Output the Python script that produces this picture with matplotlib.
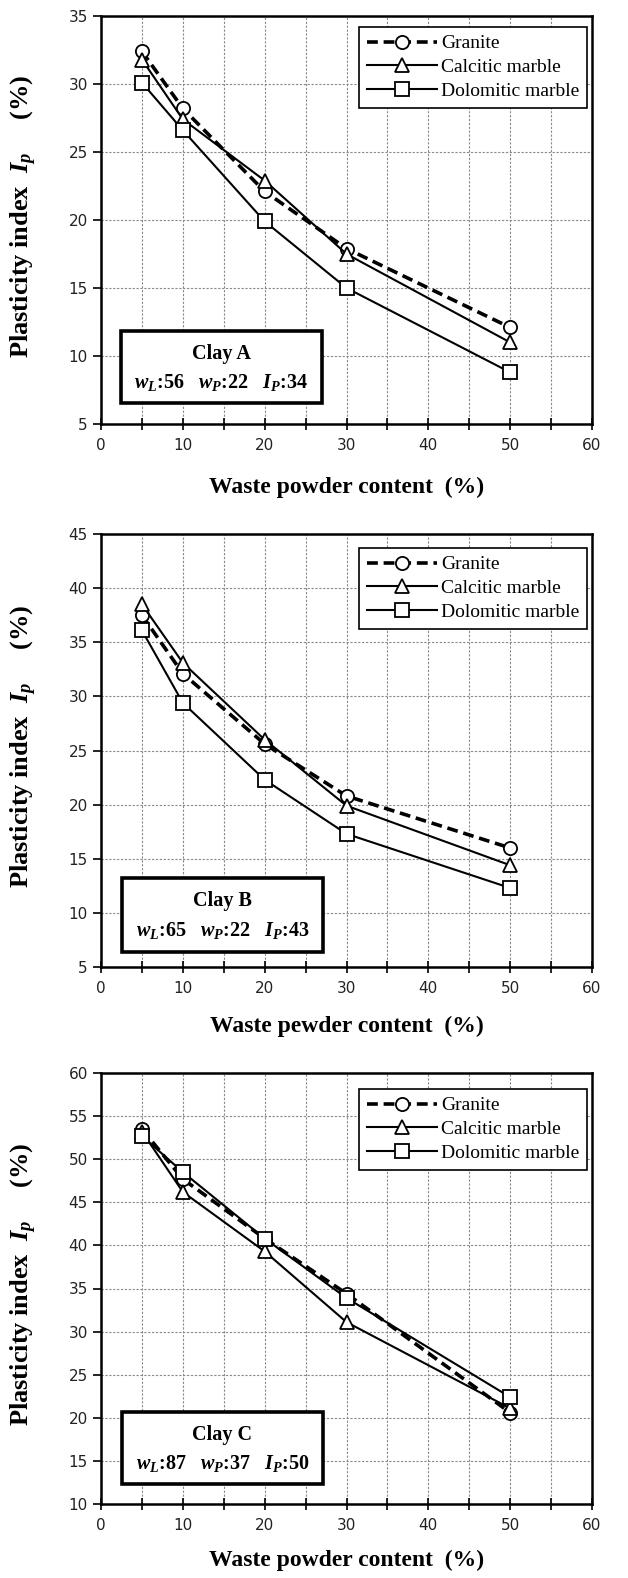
import matplotlib
matplotlib.use("Agg")
import matplotlib.pyplot as plt
from matplotlib.patches import Rectangle

plt.rcParams["mathtext.fontset"] = "custom"
plt.rcParams["mathtext.rm"] = "Liberation Serif:bold"
plt.rcParams["mathtext.it"] = "Liberation Serif:italic:bold"
plt.rcParams["mathtext.bf"] = "Liberation Serif:bold"

# waste powder content (%)
content = [5, 10, 20, 30, 50]
series_names = ["Granite", "Calcitic marble", "Dolomitic marble"]

# plasticity index values
clay_a_granite = [32.4, 28.2, 22.1, 17.9, 12.1]
clay_a_calcitic = [31.8, 27.4, 22.9, 17.5, 11.0]
clay_a_dolomitic = [30.1, 26.6, 19.9, 15.0, 8.8]

clay_b_granite = [37.5, 32.1, 25.6, 20.8, 16.0]
clay_b_calcitic = [38.5, 33.1, 26.0, 19.9, 14.4]
clay_b_dolomitic = [36.1, 29.4, 22.3, 17.3, 12.3]

clay_c_granite = [53.5, 47.7, 40.8, 34.4, 20.6]
clay_c_calcitic = [53.2, 46.2, 39.3, 31.1, 21.1]
clay_c_dolomitic = [52.7, 48.5, 40.8, 33.9, 22.4]

clay_names = ["Clay A", "Clay B", "Clay C"]
clay_props = [(56, 22, 34), (65, 22, 43), (87, 37, 50)]
y_limits = [(5, 35), (5, 45), (10, 60)]
x_titles = ["Waste powder content  (%)", "Waste pewder content  (%)", "Waste powder content  (%)"]

panels = [
    (clay_a_granite, clay_a_calcitic, clay_a_dolomitic),
    (clay_b_granite, clay_b_calcitic, clay_b_dolomitic),
    (clay_c_granite, clay_c_calcitic, clay_c_dolomitic),
]

W, H = 628, 1578
# axes placement in pixels: (top, bottom)
axes_px = [(16, 424), (534, 967), (1073, 1504)]
box_frac = [(0.041, 0.051, 0.409, 0.177), (0.043, 0.035, 0.409, 0.171), (0.043, 0.046, 0.409, 0.167)]
legend_top_px = [27, 548, 1089]
xlabel_pad = [17, 14, 12]

fig = plt.figure(figsize=(W / 100, H / 100), dpi=100)
serif = "Liberation Serif"

for i, (gr, ca, do) in enumerate(panels):
    top, bot = axes_px[i]
    ax = fig.add_axes([101 / W, 1 - bot / H, 491 / W, (bot - top) / H])
    ymin, ymax = y_limits[i]

    ax.plot(content, gr, ls="--", lw=2.6, color="black", marker="o", ms=9.5,
            mfc="white", mec="black", mew=1.3, dashes=(3, 1.6), label=series_names[0], zorder=4)
    ax.plot(content, ca, ls="-", lw=1.5, color="black", marker="^", ms=10,
            mfc="white", mec="black", mew=1.3, label=series_names[1], zorder=4)
    ax.plot(content, do, ls="-", lw=1.5, color="black", marker="s", ms=10.5,
            mfc="white", mec="black", mew=1.3, label=series_names[2], zorder=4)

    ax.set_xlim(0, 60)
    ax.set_ylim(ymin, ymax)
    ax.set_xticks(range(0, 61, 10))
    ax.set_xticks(range(5, 60, 10), minor=True)
    ax.set_yticks(range(ymin, ymax + 1, 5))
    ax.grid(True, which="both", axis="x", ls=(0, (2, 1.5)), lw=0.8, color="#888888")
    ax.grid(True, which="major", axis="y", ls=(0, (2, 1.5)), lw=0.8, color="#888888")
    ax.set_axisbelow(True)
    for sp in ax.spines.values():
        sp.set_linewidth(1.8)
    ax.tick_params(axis="both", which="both", direction="out", length=6, width=1.2,
                   labelsize=11, colors="black")
    ax.tick_params(axis="x", which="both", direction="inout", length=8)
    ax.tick_params(axis="x", which="major", pad=6)
    for lab in ax.get_xticklabels() + ax.get_yticklabels():
        lab.set_fontfamily("DejaVu Sans")
        lab.set_color("#222222")

    ax.set_xlabel(x_titles[i], fontsize=17, fontweight="bold", family=serif, labelpad=xlabel_pad[i])
    ax.set_ylabel(r"Plasticity index  $I_p$     (%)", fontsize=19, fontweight="bold",
                  family=serif)
    ax.yaxis.set_label_coords(-0.127, 0.51)

    # legend
    ltop = 1 - (legend_top_px[i] - top) / (bot - top)
    leg = ax.legend(loc="upper right", bbox_to_anchor=(0.99, ltop), borderaxespad=0,
                    prop={"family": serif, "size": 14}, handlelength=3.6, handletextpad=0.2,
                    labelspacing=0.32, borderpad=0.4, fancybox=False, framealpha=1,
                    edgecolor="black")
    leg.get_frame().set_linewidth(1.2)

    # clay info box
    bx, by, bw, bh = box_frac[i]
    ax.add_patch(Rectangle((bx, by), bw, bh, transform=ax.transAxes, facecolor="white",
                           edgecolor="black", lw=2.6, zorder=6))
    ax.text(bx + bw / 2, by + bh * 0.68, clay_names[i], transform=ax.transAxes, ha="center",
            va="center", fontsize=14.5, fontweight="bold", family=serif, zorder=7)
    wl, wp, ip = clay_props[i]
    ax.text(bx + bw / 2, by + bh * 0.29,
            rf"$w_L$:{wl}   $w_P$:{wp}   $I_P$:{ip}", transform=ax.transAxes, ha="center",
            va="center", fontsize=14.5, fontweight="bold", family=serif, zorder=7)

fig.savefig("out.png", dpi=100)
